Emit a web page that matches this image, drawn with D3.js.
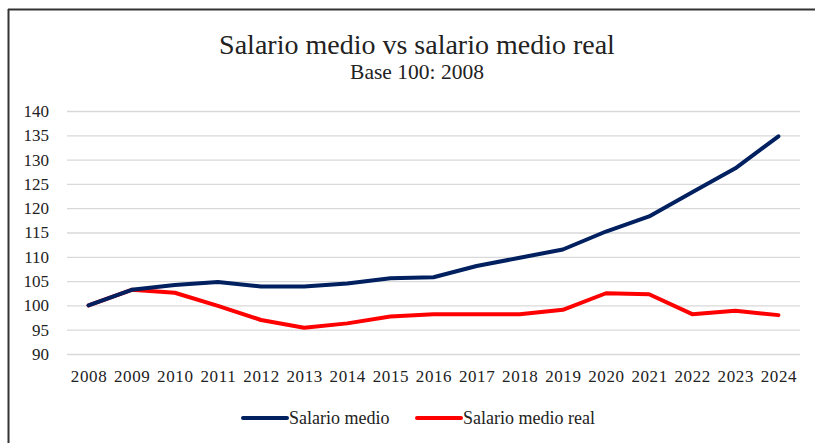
<!DOCTYPE html>
<html>
<head>
<meta charset="utf-8">
<script src="https://cdn.jsdelivr.net/npm/d3@7"></script>
<style>
  body { margin: 0; background: #fff; }
  svg text { font-family: "Liberation Serif", "Times New Roman", serif; fill: #222; }
</style>
</head>
<body>
<div id="chart"></div>
<script>

var years = ["2008","2009","2010","2011","2012","2013","2014","2015","2016","2017","2018","2019","2020","2021","2022","2023","2024"];
var salarioMedio = [100, 103.2, 104.2, 104.8, 103.9, 103.9, 104.5, 105.6, 105.8, 108.1, 109.8, 111.5, 115.2, 118.3, 123.3, 128.2, 134.8];
var salarioReal = [100, 103.2, 102.6, 99.9, 97.0, 95.4, 96.3, 97.7, 98.2, 98.2, 98.2, 99.1, 102.5, 102.3, 98.2, 98.9, 98.0];
var yTicks = [90, 95, 100, 105, 110, 115, 120, 125, 130, 135, 140];

var series = [
  { name: "Salario medio", values: salarioMedio, color: "#002060" },
  { name: "Salario medio real", values: salarioReal, color: "#ff0000" }
];

var width = 815, height = 443;
var margin = { left: 67, right: 15, top: 111, bottom: 89 };

var svg = d3.select("#chart")
  .append("svg")
  .attr("width", width)
  .attr("height", height);

// frame (only top and left edges are visible in the crop)
svg.append("line")
  .attr("x1", 8).attr("x2", width).attr("y1", 9.5).attr("y2", 9.5)
  .style("stroke", "#333").style("stroke-width", 2);
svg.append("line")
  .attr("x1", 8.5).attr("x2", 8.5).attr("y1", 9).attr("y2", height)
  .style("stroke", "#333").style("stroke-width", 2);

svg.append("text")
  .attr("x", 417).attr("y", 54)
  .style("text-anchor", "middle")
  .style("font-size", "28px")
  .text("Salario medio vs salario medio real");

svg.append("text")
  .attr("x", 417).attr("y", 79)
  .style("text-anchor", "middle")
  .style("font-size", "21.5px")
  .text("Base 100: 2008");

var x = d3.scalePoint()
  .domain(years)
  .range([margin.left, width - margin.right])
  .padding(0.5);

var y = d3.scaleLinear()
  .domain([90, 140])
  .range([height - margin.bottom, margin.top]);

var yAxis = d3.axisLeft(y)
  .tickValues(yTicks)
  .tickSize(-(width - margin.right - margin.left))
  .tickPadding(18);

var gy = svg.append("g")
  .attr("transform", "translate(" + margin.left + ",0)")
  .call(yAxis);
gy.attr("font-family", null);
gy.select(".domain").remove();
gy.selectAll(".tick line").style("stroke", "#d9d9d9").style("stroke-width", 1.3);
gy.selectAll(".tick text").style("font-size", "17px").attr("fill", "#222");

var xAxis = d3.axisBottom(x).tickSize(0).tickPadding(16);
var gx = svg.append("g")
  .attr("transform", "translate(0," + (height - margin.bottom) + ")")
  .call(xAxis);
gx.attr("font-family", null);
gx.select(".domain").remove();
gx.selectAll(".tick text")
  .style("font-size", "17px")
  .style("letter-spacing", "0.6px")
  .attr("fill", "#222");

var line = d3.line()
  .x(function(d, i) { return x(years[i]); })
  .y(function(d) { return y(d); });

svg.selectAll(".series")
  .data(series.slice().reverse())
  .enter()
  .append("path")
  .attr("class", "series")
  .attr("d", function(d) { return line(d.values); })
  .style("fill", "none")
  .style("stroke", function(d) { return d.color; })
  .style("stroke-width", 4)
  .style("stroke-linejoin", "round")
  .style("stroke-linecap", "round");

// legend
var legendX = [243, 417];
var leg = svg.selectAll(".legend")
  .data(series)
  .enter()
  .append("g")
  .attr("class", "legend")
  .attr("transform", function(d, i) { return "translate(" + legendX[i] + ",418)"; });

leg.append("line")
  .attr("x1", 0).attr("x2", 44)
  .style("stroke", function(d) { return d.color; })
  .style("stroke-width", 4)
  .style("stroke-linecap", "round");

leg.append("text")
  .attr("x", 46).attr("dy", "0.33em")
  .style("font-size", "18px")
  .text(function(d) { return d.name; });

</script>
</body>
</html>
